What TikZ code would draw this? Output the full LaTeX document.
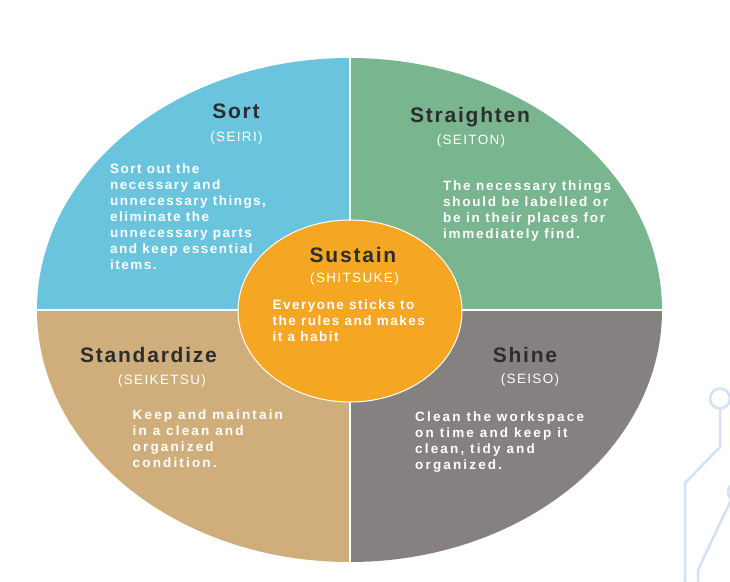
\documentclass[tikz,border=0pt]{standalone}
\usepackage{fontspec}
\setmainfont{Liberation Sans}
\newfontfamily\ttlfont{Liberation Sans}[LetterSpace=8.5]
\newfontfamily\subfont{Liberation Sans}[LetterSpace=10]
\newfontfamily\bdyfont{Liberation Sans}[LetterSpace=11]
\newfontfamily\bdywfont{Liberation Sans}[LetterSpace=16]
\newfontfamily\bdymfont{Liberation Sans}[LetterSpace=13]
\definecolor{cblue}{HTML}{6BC4DD}
\definecolor{cgreen}{HTML}{79B58F}
\definecolor{ctan}{HTML}{CFAE7C}
\definecolor{cgray}{HTML}{858180}
\definecolor{corange}{HTML}{F5A724}
\definecolor{ctitle}{HTML}{2D2D2D}
\definecolor{cdeco}{HTML}{D4E1F4}
\begin{document}
\begin{tikzpicture}[x=1pt,y=-1pt,
  ttlstyle/.style={font=\ttlfont\bfseries\fontsize{21}{24}\selectfont, text=ctitle, inner sep=0pt, anchor=base},
  substyle/.style={font=\subfont\fontsize{13.5}{16}\selectfont, text=white, inner sep=0pt, anchor=base},
  bodystyle/.style={font=\bdyfont\bfseries\fontsize{13.5}{16}\selectfont, text=white, inner sep=0pt, anchor=base west, align=left},
  bodywide/.style={bodystyle, font=\bdywfont\bfseries\fontsize{13.5}{16}\selectfont},
  bodymid/.style={bodystyle, font=\bdymfont\bfseries\fontsize{13.5}{16}\selectfont},
  divider/.style={white, line width=2pt},
  decoline/.style={cdeco, line width=2.5pt}
]
\useasboundingbox (0,0) rectangle (730,581);
\fill[white] (0,0) rectangle (730,581);
% quadrants
\begin{scope}
  \clip (349.5,310) ellipse [x radius=312.5pt, y radius=252pt];
  \fill[cblue]  (0,0) rectangle (349.5,310);
  \fill[cgreen] (349.5,0) rectangle (730,310);
  \fill[ctan]   (0,310) rectangle (349.5,581);
  \fill[cgray]  (349.5,310) rectangle (730,581);
\end{scope}
\coordinate (vt) at (349.5,55);
\coordinate (vb) at (349.5,565);
\coordinate (hl) at (34,310);
\coordinate (hr) at (665,310);
\draw[divider] (vt) -- (vb);
\draw[divider] (hl) -- (hr);
% centre
\filldraw[fill=corange, draw=white, line width=1pt] (350,311) ellipse [x radius=112pt, y radius=91pt];
% decoration
\coordinate (d1) at (720,398.5);
\draw[decoline] (d1) circle [radius=10pt];
\coordinate (d1a) at (720,408.5);
\coordinate (d1b) at (720,447);
\coordinate (d1c) at (685,483);
\coordinate (d1d) at (685,585);
\draw[decoline] (d1a) -- (d1b) -- (d1c) -- (d1d);
\coordinate (d2) at (738,492);
\draw[decoline] (d2) circle [radius=10pt];
\coordinate (d2a) at (731,500);
\coordinate (d2b) at (698,570);
\coordinate (d2c) at (698,585);
\draw[decoline] (d2a) -- (d2b) -- (d2c);
% texts (body nodes are placed by the baseline of their last line)
\node[ttlstyle] (sortT) at (236,118) {Sort};
\node[substyle] (sortS) at (236.5,141) {(SEIRI)};
\node[bodystyle] (sortB) at (110,269.5) {Sort out the\\necessary and\\unnecessary things,\\eliminate the\\unnecessary parts\\and keep essential\\items.};

\node[ttlstyle] (strT) at (470,122) {Straighten};
\node[substyle] (strS) at (471,144) {(SEITON)};
\node[bodymid] (strB) at (443,238.5) {The necessary things\\should be labelled or\\be in their places for\\immediately find.};

\node[ttlstyle] (susT) at (353,262) {Sustain};
\node[substyle] (susS) at (354.5,282) {(SHITSUKE)};
\node[bodystyle] (susB) at (272.5,341) {Everyone sticks to\\the rules and makes\\it a habit};

\node[ttlstyle] (stdT) at (148.5,362) {Standardize};
\node[substyle] (stdS) at (162,384) {(SEIKETSU)};
\node[bodywide] (stdB) at (132.5,467.5) {Keep and maintain\\in a clean and\\organized\\condition.};

\node[ttlstyle] (shT) at (525,362) {Shine};
\node[substyle] (shS) at (530,383) {(SEISO)};
\node[bodywide] (shB) at (415,469.5) {Clean the workspace\\on time and keep it\\clean, tidy and\\organized.};
\end{tikzpicture}
\end{document}
